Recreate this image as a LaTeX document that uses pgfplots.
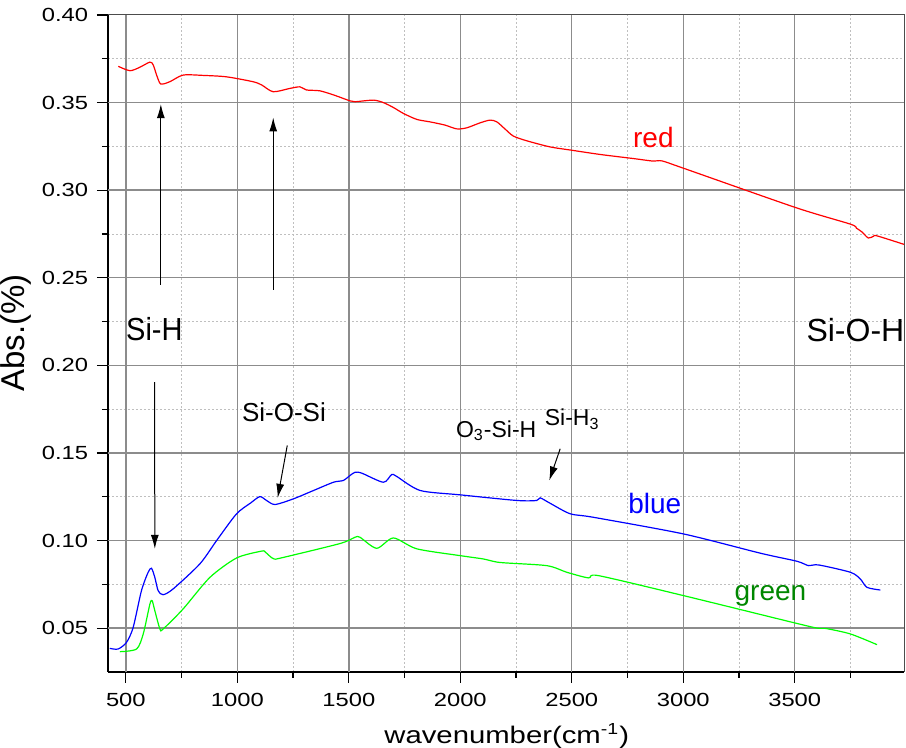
\documentclass[border=0pt]{standalone}
\usepackage{fontspec}
\setmainfont{Liberation Sans}
\usepackage{pgfplots}
\pgfplotsset{compat=1.18}
\usetikzlibrary{arrows.meta}
\definecolor{lime}{RGB}{0,255,0}
\definecolor{dgreen}{RGB}{0,135,0}
\begin{document}
\begin{tikzpicture}
\begin{axis}[
 scale only axis, width=398pt, height=328.5pt,
 xmin=420, xmax=3990, ymin=0.025, ymax=0.40,
 xtick={500,1000,1500,2000,2500,3000,3500},
 ytick={0.05,0.10,0.15,0.20,0.25,0.30,0.35,0.40},
 minor xtick={750,1250,1750,2250,2750,3250,3750},
 minor ytick={0.075,0.125,0.175,0.225,0.275,0.325,0.375},
 axis x line*=bottom, axis y line*=left,
 axis line style={black, line width=1.1pt},
 tick align=outside,
 major tick length=5.5pt, minor tick length=3pt,
 every tick/.style={black, line width=0.6pt},
 grid=minor,
 minor grid style={draw=black!25, dash pattern=on 1pt off 1pt, line width=0.45pt},
 /pgf/number format/assume math mode=true,
 /pgf/number format/1000 sep={},
 yticklabel style={/pgf/number format/fixed, /pgf/number format/fixed zerofill, /pgf/number format/precision=2},
 ticklabel style={font=\fontsize{9.5}{11}\selectfont, xscale=1.25},
 xticklabel style={yshift=-1.5pt},
 xlabel={wavenumber(cm\textsuperscript{-1})},
 ylabel={Abs.(\%)},
 xlabel style={font=\fontsize{12}{14}\selectfont, xscale=1.22, at={(axis description cs:0.501,-0.097)}, anchor=center},
 ylabel style={font=\fontsize{16.5}{19}\selectfont, at={(axis description cs:-0.1156,0.516)}, anchor=center},
 clip mode=individual,
 every axis plot/.append style={line width=0.6pt, smooth, tension=0.45},
]
\coordinate (sw) at (rel axis cs:0,0);
\coordinate (ne) at (rel axis cs:1,1);
\pgfplotsinvokeforeach{500,1000,1500,2000,2500,3000,3500}{
  \draw[black!45, line width=0.7pt] (axis cs:#1,0.025) -- (axis cs:#1,0.40);
}
\pgfplotsinvokeforeach{0.05,0.10,0.15,0.20,0.25,0.30,0.35}{
  \draw[black!45, line width=0.7pt] (axis cs:420,#1) -- (axis cs:3990,#1);
}
\draw[black!70, line width=0.5pt] (rel axis cs:0,1) -- (rel axis cs:1,1) -- (rel axis cs:1,0);

\addplot[red] coordinates {
(466,0.3707) (518,0.3682) (560,0.3700) (608,0.3731) (623,0.3714) (640,0.3650) (657,0.3606) (697,0.3619) (757,0.3657) (850,0.3655) (952,0.3647) (1071,0.3619) (1110,0.3600) (1161,0.3562) (1236,0.3581) (1281,0.3590) (1310,0.3572) (1371,0.3567) (1440,0.3540) (1505,0.3510) (1528,0.3505) (1610,0.3514) (1655,0.3500) (1700,0.3472) (1745,0.3438) (1805,0.3404) (1864,0.3390) (1930,0.3372) (1984,0.3350) (2029,0.3356) (2090,0.3385) (2134,0.3400) (2164,0.3390) (2200,0.3350) (2238,0.3309) (2298,0.3282) (2403,0.3247) (2500,0.3228) (2627,0.3204) (2780,0.3180) (2865,0.3166) (2905,0.3167) (3004,0.3124) (3506,0.2900) (3750,0.2806) (3777,0.2783) (3800,0.2763) (3830,0.2727) (3853,0.2737) (3870,0.2739) (3992,0.2690)
};
\addplot[blue] coordinates {
(428,0.0385) (465,0.0381) (503,0.0419) (533,0.0505) (570,0.0714) (600,0.0819) (615,0.0842) (630,0.0790) (645,0.0714) (667,0.0691) (712,0.0724) (832,0.0867) (907,0.1000) (996,0.1152) (1060,0.1215) (1101,0.1251) (1131,0.1229) (1169,0.1206) (1251,0.1238) (1340,0.1285) (1431,0.1333) (1475,0.1343) (1505,0.1371) (1528,0.1390) (1558,0.1385) (1655,0.1333) (1692,0.1377) (1715,0.1366) (1820,0.1286) (2000,0.1261) (2254,0.1229) (2343,0.1229) (2358,0.1244) (2403,0.1213) (2493,0.1153) (2597,0.1133) (3001,0.1038) (3346,0.0928) (3510,0.0882) (3562,0.0857) (3607,0.0861) (3750,0.0819) (3794,0.0781) (3824,0.0733) (3884,0.0718)
};
\addplot[lime] coordinates {
(473,0.0366) (548,0.0381) (578,0.0467) (608,0.0638) (618,0.0657) (630,0.0600) (653,0.0495) (667,0.0495) (757,0.0610) (877,0.0790) (997,0.0901) (1109,0.0940) (1125,0.0935) (1145,0.0912) (1165,0.0895) (1200,0.0902) (1460,0.0983) (1528,0.1019) (1550,0.1019) (1625,0.0956) (1700,0.1015) (1805,0.0953) (2000,0.0914) (2104,0.0895) (2179,0.0875) (2388,0.0857) (2478,0.0819) (2575,0.0787) (2620,0.0800) (3001,0.0686) (3510,0.0527) (3607,0.0499) (3637,0.0499) (3750,0.0467) (3869,0.0406)
};

\draw[-{Latex[length=7pt,width=4pt]}, line width=0.5pt] (axis cs:657,0.2461) -- (axis cs:657,0.3491);
\draw[-{Latex[length=7pt,width=4pt]}, line width=0.5pt] (axis cs:1161,0.2433) -- (axis cs:1161,0.3415);
\draw[-{Latex[length=7pt,width=4pt]}, line width=0.5pt] (axis cs:629,0.1905) -- (axis cs:630,0.0953);
\draw[-{Latex[length=7pt,width=4pt]}, line width=0.5pt] (axis cs:1224,0.1543) -- (axis cs:1181,0.1244);
\draw[-{Latex[length=7pt,width=4pt]}, line width=0.5pt] (axis cs:2448,0.1524) -- (axis cs:2399,0.1343);

\node[anchor=base, font=\fontsize{14.5}{17}\selectfont, yscale=1.1] at (axis cs:628,0.2143) {Si-H};
\node[anchor=base, font=\fontsize{16}{19}\selectfont] at (axis cs:3772,0.2137) {Si-O-H};
\node[anchor=base, font=\fontsize{13}{15}\selectfont] at (axis cs:1209,0.1682) {Si-O-Si};
\node[anchor=base, font=\fontsize{11.5}{14}\selectfont] at (axis cs:2161,0.1589) {O\textsubscript{3}-Si-H};
\node[anchor=base, font=\fontsize{11.5}{14}\selectfont] at (axis cs:2502,0.1657) {Si-H\textsubscript{3}};
\node[anchor=base, red, font=\fontsize{14}{17}\selectfont] at (axis cs:2866,0.3246) {red};
\node[anchor=base, blue, font=\fontsize{14}{17}\selectfont] at (axis cs:2872,0.1154) {blue};
\node[anchor=base, dgreen, font=\fontsize{14}{17}\selectfont] at (axis cs:3391,0.0657) {green};
\end{axis}
\pgfresetboundingbox
\path ([shift={(-54pt,-38pt)}]sw) rectangle ([shift={(1pt,7.5pt)}]ne);
\end{tikzpicture}
\end{document}
